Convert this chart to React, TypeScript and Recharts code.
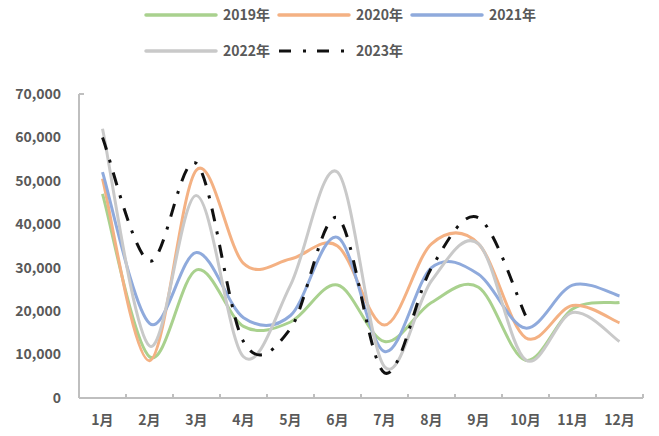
import React from 'react';
import { LineChart, Line, XAxis, YAxis } from 'recharts';

// Monthly values per year
const months = ['1月', '2月', '3月', '4月', '5月', '6月', '7月', '8月', '9月', '10月', '11月', '12月'];
const y2019 = [47000, 9500, 29500, 16500, 17500, 26000, 13000, 22000, 25500, 8700, 20500, 22000];
const y2020 = [50500, 8600, 52500, 31000, 32000, 35000, 16800, 35500, 35500, 13900, 21300, 17300];
const y2021 = [52000, 17200, 33500, 18500, 19000, 37000, 10700, 30000, 28500, 16100, 26000, 23500];
const y2022 = [62000, 12000, 46600, 9500, 26000, 52000, 7200, 27000, 35500, 8800, 19700, 13000];
const y2023 = [60000, 31500, 54000, 13000, 16000, 41500, 5800, 30000, 41500, 19000, null, null];
const yTicks = [0, 10000, 20000, 30000, 40000, 50000, 60000, 70000];

const seriesNames = ['2019年', '2020年', '2021年', '2022年', '2023年'];
const seriesColors = ['#A9D18E', '#F4B183', '#8FAADC', '#C9C9C9', '#111111'];
const seriesValues = [y2019, y2020, y2021, y2022, y2023];
const DASH_DOT = '13 10.5 3 10.5';

const data = months.map((m, i) => {
  const row: Record<string, string | number | null> = { month: m };
  seriesNames.forEach((name, s) => {
    row[name] = seriesValues[s][i];
  });
  return row;
});

// Layout
const W = 659;
const H = 436;
const PLOT_LEFT = 79;
const PLOT_RIGHT = 643;
const PLOT_TOP = 94;
const PLOT_BOTTOM = 398;
const HALF_STEP = (PLOT_RIGHT - PLOT_LEFT) / months.length / 2;
const Y_LABEL_GAP = 18;

const FONT = '"Noto Sans CJK SC", "Noto Sans", sans-serif';
const TEXT_COLOR = '#595959';
const AXIS_COLOR = '#BFBFBF';

// Uniform Catmull-Rom smoothing (cubic Bezier segments, 1/6 tangent scale)
function smoothCurve(context: any) {
  let xs: number[] = [];
  let ys: number[] = [];
  let areaMode = NaN;
  const flush = () => {
    const n = xs.length;
    if (n === 0) return;
    context.moveTo(xs[0], ys[0]);
    if (n === 1) {
      context.lineTo(xs[0], ys[0]);
      return;
    }
    for (let i = 0; i < n - 1; i++) {
      const p = i > 0 ? i - 1 : i;
      const q = i + 2 < n ? i + 2 : i + 1;
      const c1x = xs[i] + (xs[i + 1] - xs[p]) / 6;
      const c1y = ys[i] + (ys[i + 1] - ys[p]) / 6;
      const c2x = xs[i + 1] - (xs[q] - xs[i]) / 6;
      const c2y = ys[i + 1] - (ys[q] - ys[i]) / 6;
      context.bezierCurveTo(c1x, c1y, c2x, c2y, xs[i + 1], ys[i + 1]);
    }
  };
  return {
    areaStart() {
      areaMode = 0;
    },
    areaEnd() {
      areaMode = NaN;
    },
    lineStart() {
      xs = [];
      ys = [];
    },
    lineEnd() {
      flush();
      if (areaMode === 0) context.closePath();
    },
    point(x: number, y: number) {
      xs.push(+x);
      ys.push(+y);
    },
  };
}

const XTick = (props: any) => {
  const { x, y, payload, index } = props;
  const left = x - HALF_STEP;
  const right = x + HALF_STEP;
  return (
    <g>
      <line x1={left} y1={y} x2={left} y2={y - 4} stroke={AXIS_COLOR} strokeWidth={2} />
      {index === months.length - 1 && (
        <line x1={right} y1={y} x2={right} y2={y - 4} stroke={AXIS_COLOR} strokeWidth={2} />
      )}
      <text
        x={x}
        y={y + 22}
        dy="0.35em"
        textAnchor="middle"
        fill={TEXT_COLOR}
        fontSize={14}
        fontWeight="bold"
        fontFamily={FONT}
      >
        {payload.value}
      </text>
    </g>
  );
};

const YTick = (props: any) => {
  const { x, y, payload } = props;
  const axisX = x + Y_LABEL_GAP;
  const isTop = payload.value === yTicks[yTicks.length - 1];
  return (
    <g>
      {isTop && <line x1={axisX} y1={y} x2={axisX + 5} y2={y} stroke={AXIS_COLOR} strokeWidth={2} />}
      <text
        x={x}
        y={y}
        dy="0.35em"
        textAnchor="end"
        fill={TEXT_COLOR}
        fontSize={14}
        fontWeight="bold"
        fontFamily={FONT}
      >
        {Number(payload.value).toLocaleString('en-US')}
      </text>
    </g>
  );
};

// Two-row legend above the plot
const LEGEND_COL_X = [146, 279, 412];
const LEGEND_ROW_Y = [15, 51];

const LegendBlock = () => (
  <svg width={W} height={70} style={{ position: 'absolute', left: 0, top: 0 }}>
    {seriesNames.map((name, i) => {
      const lx = LEGEND_COL_X[i % 3];
      const ly = LEGEND_ROW_Y[Math.floor(i / 3)];
      const dashed = i === seriesNames.length - 1;
      return (
        <g key={name}>
          <line
            x1={lx}
            y1={ly}
            x2={lx + 70}
            y2={ly}
            stroke={seriesColors[i]}
            strokeWidth={dashed ? 3 : 3.5}
            strokeDasharray={dashed ? '12 12 3 11' : undefined}
            strokeLinecap={dashed ? 'butt' : 'round'}
          />
          <text
            x={lx + 77}
            y={ly}
            dy="0.35em"
            fill={TEXT_COLOR}
            fontSize={14}
            fontWeight="bold"
            fontFamily={FONT}
          >
            {name}
          </text>
        </g>
      );
    })}
  </svg>
);

export default function App() {
  return (
    <div style={{ position: 'relative', width: W, height: H, background: '#fff' }}>
      <style>{'body{margin:0}'}</style>
      <LineChart
        width={W}
        height={H}
        data={data}
        margin={{ top: PLOT_TOP, right: W - PLOT_RIGHT, bottom: 0, left: 0 }}
      >
        <XAxis
          dataKey="month"
          type="category"
          padding={{ left: HALF_STEP, right: HALF_STEP }}
          height={H - PLOT_BOTTOM}
          axisLine={{ stroke: AXIS_COLOR, strokeWidth: 2 }}
          tickLine={false}
          tickSize={0}
          tickMargin={0}
          interval={0}
          tick={<XTick />}
        />
        <YAxis
          type="number"
          domain={[0, 70000]}
          ticks={yTicks}
          width={PLOT_LEFT}
          axisLine={{ stroke: AXIS_COLOR, strokeWidth: 2 }}
          tickLine={false}
          tickSize={0}
          tickMargin={Y_LABEL_GAP}
          interval={0}
          tick={<YTick />}
        />
        {seriesNames.map((name, i) => (
          <Line
            key={name}
            dataKey={name}
            type={smoothCurve as any}
            stroke={seriesColors[i]}
            strokeWidth={3}
            strokeDasharray={i === seriesNames.length - 1 ? DASH_DOT : undefined}
            strokeLinecap="butt"
            dot={false}
            activeDot={false}
            isAnimationActive={false}
          />
        ))}
      </LineChart>
      <LegendBlock />
    </div>
  );
}
